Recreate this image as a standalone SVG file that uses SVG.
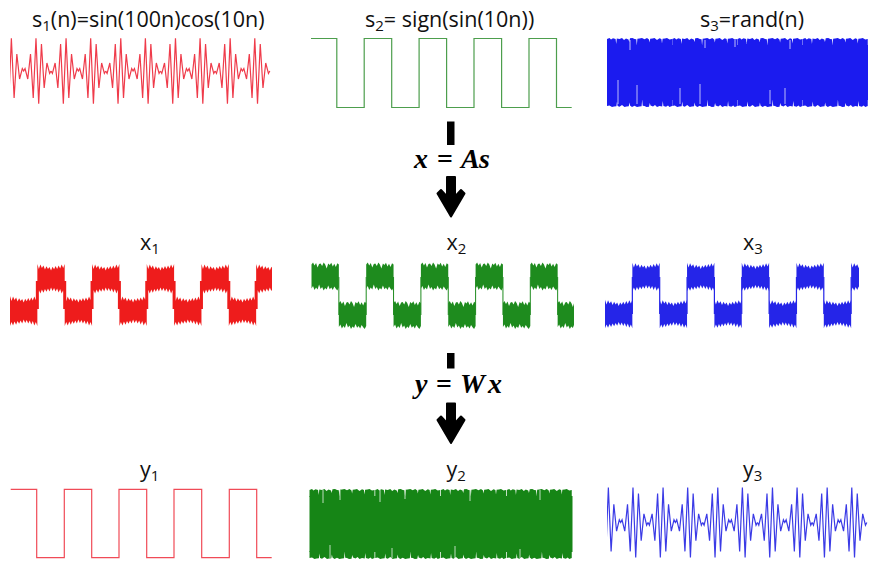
<svg xmlns="http://www.w3.org/2000/svg" xmlns:xlink="http://www.w3.org/1999/xlink" width="878" height="563" viewBox="0 0 878 563">
<style>
.t{font-family:"Open Sans","Noto Sans","Liberation Sans",sans-serif;font-size:21.5px;fill:#111}
.sub{font-size:15px}
.m{font-family:"Liberation Serif","DejaVu Serif",serif;font-size:28px;font-weight:bold;font-style:italic;fill:#000}
.eq{font-style:normal}
.thin{fill:none;stroke-width:1.2;stroke-linejoin:miter}
.arr{fill:#000;stroke:#000;stroke-width:2;stroke-linejoin:round}
</style>
<defs>
<path id="pair" d="M0,0 L1.37,2.5 L4.1,-8 L6.84,17 L9.57,-27 L12.31,32.6 L15.04,-32.6 L17.78,27 L20.51,-17 L23.25,8 L25.98,-2.5 L27.35,0 L28.72,-2.5 L31.45,8 L34.19,-17 L36.92,27 L39.66,-32.6 L42.39,32.6 L45.13,-27 L47.86,17 L50.6,-8 L53.33,2.5 L54.7,0"/>
<path id="jag" d="M0,0 V-7 L2.5,-8 L4,-6.5 L6,-7.8 L8.6,-7 L9.2,-2 L9.8,-7.5 L12.5,-7 L15,-8 L17,-6 L19,-7.6 L21.5,-6.5 L22.2,-4 L23,-7.8 L25.5,-8 L27.5,-7 L29.3,-6.8 L29.8,-0.5 L30.4,-7.2 L32.5,-7.4 L35,-8 L37.5,-6.8 L40,-7.9 L42,-6.5 L42.6,-3.5 L43.2,-7.2 L45.5,-7.6 L47.5,-8 L50,-6 L52.5,-7.7 L54.4,-7 L55,-2.5 L55.6,-7.3 L58,-7.6 L60,-8 L62.5,-6.6 L65,-7 V0 Z"/>
<path id="nb" d="M0,-12 L1.52,-14 L3.04,-11 L4.56,-13.5 L6.08,-9 L7.6,-12.5 L9.12,-13 L10.64,-10.5 L12.16,-14 L13.68,-12 L15.2,-8 L16.72,-13 L18.24,-11.5 L19.76,-13.8 L21.28,-10 L22.8,-12.8 L24.32,-9.5 L25.84,-13.2 L27.35,-12 L27.35,11 L25.84,14 L24.32,12.2 L22.8,10 L21.28,13.5 L19.76,11 L18.24,12.8 L16.72,9 L15.2,13 L13.68,11.5 L12.16,14 L10.64,10.5 L9.12,12.5 L7.6,8 L6.08,13 L4.56,11 L3.04,13.5 L1.52,9.5 L0,12 Z"/>
<path id="nb2" d="M0,-15 L1.52,-10 L3.04,-14.5 L4.56,-11 L6.08,-13.5 L7.6,-9.5 L9.12,-12.8 L10.64,-10 L12.16,-12 L13.68,-8.5 L15.2,-12.2 L16.72,-9.8 L18.24,-13 L19.76,-10 L21.28,-13.6 L22.8,-10.5 L24.32,-14.6 L25.84,-11 L27.35,-15 L27.35,15 L25.84,11 L24.32,14.5 L22.8,10 L21.28,13.6 L19.76,9.5 L18.24,12.5 L16.72,9 L15.2,12 L13.68,8.5 L12.16,12.4 L10.64,9.5 L9.12,12.8 L7.6,10 L6.08,13.8 L4.56,10.5 L3.04,14.6 L1.52,11 L0,15 Z"/>
<clipPath id="c1"><rect x="10" y="30" width="262" height="85"/></clipPath>
<clipPath id="cy3"><rect x="607" y="480" width="262" height="85"/></clipPath>
<clipPath id="cx1"><rect x="10" y="255" width="262" height="80"/></clipPath>
<clipPath id="cx2"><rect x="311" y="255" width="263" height="80"/></clipPath>
<clipPath id="cx3"><rect x="605" y="255" width="254" height="80"/></clipPath>
</defs>
<rect width="878" height="563" fill="#fff"/>

<g id="s1">
<text class="t" x="32" y="27">s<tspan class="sub" dy="4">1</tspan><tspan dy="-4">(n)=sin(100n)cos(10n)</tspan></text>
<g clip-path="url(#c1)"><g transform="translate(-3.675,71)" class="thin" stroke="#ef3b4a">
<use href="#pair"/><use href="#pair" x="54.7"/><use href="#pair" x="109.4"/><use href="#pair" x="164.1"/><use href="#pair" x="218.8"/>
</g></g>
</g>

<g id="s2">
<text class="t" x="365" y="27">s<tspan class="sub" dy="4">2</tspan><tspan dy="-4">= sign(sin(10n))</tspan></text>
<path class="thin" stroke="#4d9e4d" d="M311,38.5 H336.8 V107.5 H364.2 V38.5 H391.7 V107.5 H419.1 V38.5 H446.6 V107.5 H474 V38.5 H501.6 V107.5 H529 V38.5 H556.5 V107.5 H571.7"/>
</g>

<g id="s3">
<text class="t" x="700" y="27">s<tspan class="sub" dy="4">3</tspan><tspan dy="-4">=rand(n)</tspan></text>
<g fill="#1b1bef">
<rect x="607" y="45" width="261" height="55"/>
<use href="#jag" transform="translate(607,46)"/><use href="#jag" transform="translate(672.25,46)"/><use href="#jag" transform="translate(737.5,46)"/><use href="#jag" transform="translate(802.75,46)"/>
<use href="#jag" transform="translate(672,99) scale(-1,-1)"/><use href="#jag" transform="translate(737.25,99) scale(-1,-1)"/><use href="#jag" transform="translate(802.5,99) scale(-1,-1)"/><use href="#jag" transform="translate(867.75,99) scale(-1,-1)"/>
</g>
<path stroke="#fff" stroke-width="0.9" opacity="0.8" d="M618,104 V80 M637,104 V85 M680,104 V88 M700,104 V84 M770,104 V90 M785,104 V88 M630,40 V50 M705,40 V48 M735,40 V47 M790,40 V49"/>
</g>

<g id="x1">
<text class="t" x="140" y="249.5">x<tspan class="sub" font-size="14" dy="4">1</tspan></text>
<g clip-path="url(#cx1)">
<path stroke="#ee1c1c" stroke-width="3" d="M37.35,281 V309 M64.7,281 V309 M92.05,281 V309 M119.4,281 V309 M146.75,281 V309 M174.1,281 V309 M201.45,281 V309 M228.8,281 V309 M256.15,281 V309"/>
<g fill="#ee1c1c">
<use href="#nb2" transform="translate(10,311)"/><use href="#nb2" transform="translate(64.7,311)"/><use href="#nb2" transform="translate(119.4,311)"/><use href="#nb2" transform="translate(174.1,311)"/><use href="#nb2" transform="translate(228.8,311)"/>
<use href="#nb2" transform="translate(37.35,279)"/><use href="#nb2" transform="translate(92.05,279)"/><use href="#nb2" transform="translate(146.75,279)"/><use href="#nb2" transform="translate(201.45,279)"/><use href="#nb2" transform="translate(256.15,279)"/>
</g>
</g>
</g>

<g id="x2">
<text class="t" x="446.5" y="250">x<tspan class="sub" font-size="14" dy="4">2</tspan></text>
<path stroke="#1e8b1e" stroke-width="1" d="M338.85,277 V315 M366.2,277 V315 M393.55,277 V315 M420.9,277 V315 M448.25,277 V315 M475.6,277 V315 M502.95,277 V315 M530.3,277 V315 M557.65,277 V315"/>
<g clip-path="url(#cx2)" fill="#1e8b1e">
<use href="#nb" transform="translate(311.5,276.5)"/><use href="#nb" transform="translate(366.2,276.5)"/><use href="#nb" transform="translate(420.9,276.5)"/><use href="#nb" transform="translate(475.6,276.5)"/><use href="#nb" transform="translate(530.3,276.5)"/>
<use href="#nb" transform="translate(338.85,315)"/><use href="#nb" transform="translate(393.55,315)"/><use href="#nb" transform="translate(448.25,315)"/><use href="#nb" transform="translate(502.95,315)"/><use href="#nb" transform="translate(557.65,315)"/>
</g>
</g>

<g id="x3">
<text class="t" x="743" y="249.5">x<tspan class="sub" font-size="14" dy="4">3</tspan></text>
<path stroke="#2525e8" stroke-width="1.2" d="M632.35,277 V314 M659.7,277 V314 M687.05,277 V314 M714.4,277 V314 M741.75,277 V314 M769.1,277 V314 M796.45,277 V314 M823.8,277 V314 M851.15,277 V314"/>
<g clip-path="url(#cx3)" fill="#2525e8">
<use href="#nb2" transform="translate(605,314) scale(1,0.95)"/><use href="#nb2" transform="translate(659.7,314) scale(1,0.95)"/><use href="#nb2" transform="translate(714.4,314) scale(1,0.95)"/><use href="#nb2" transform="translate(769.1,314) scale(1,0.95)"/><use href="#nb2" transform="translate(823.8,314) scale(1,0.95)"/>
<use href="#nb2" transform="translate(632.35,277) scale(1,0.95)"/><use href="#nb2" transform="translate(687.05,277) scale(1,0.95)"/><use href="#nb2" transform="translate(741.75,277) scale(1,0.95)"/><use href="#nb2" transform="translate(796.45,277) scale(1,0.95)"/><use href="#nb2" transform="translate(851.15,277) scale(1,0.95)"/>
</g>
</g>

<g id="y1">
<text class="t" x="140" y="476.5">y<tspan class="sub" font-size="14" dy="4">1</tspan></text>
<path class="thin" stroke="#f04b57" d="M10.7,489.3 H36.7 V557.7 H64.3 V489.3 H91.7 V557.7 H119 V489.3 H146.7 V557.7 H174 V489.3 H201.7 V557.7 H229.3 V489.3 H256.7 V557.7 H271.7"/>
</g>

<g id="y2">
<text class="t" x="446.5" y="476.5">y<tspan class="sub" font-size="14" dy="4">2</tspan></text>
<g fill="#168516">
<rect x="309.5" y="496" width="263" height="56"/>
<use href="#jag" transform="translate(309.5,497)"/><use href="#jag" transform="translate(375.25,497)"/><use href="#jag" transform="translate(441,497)"/><use href="#jag" transform="translate(506.75,497)"/>
<use href="#jag" transform="translate(374.5,551) scale(-1,-1)"/><use href="#jag" transform="translate(440.25,551) scale(-1,-1)"/><use href="#jag" transform="translate(506,551) scale(-1,-1)"/><use href="#jag" transform="translate(571.75,551) scale(-1,-1)"/>
</g>
<path stroke="#fff" stroke-width="0.9" opacity="0.8" d="M323,490 V503 M340,490 V500 M380,490 V502 M405,490 V499 M470,490 V501 M540,490 V500 M330,558 V545 M392,558 V548 M455,558 V546 M520,558 V549"/>
</g>

<g id="y3">
<text class="t" x="743" y="476.5">y<tspan class="sub" font-size="14" dy="4">3</tspan></text>
<g clip-path="url(#cy3)"><g transform="translate(593.325,522.5) scale(1,1.07)" class="thin" stroke="#3b3be6">
<use href="#pair"/><use href="#pair" x="54.7"/><use href="#pair" x="109.4"/><use href="#pair" x="164.1"/><use href="#pair" x="218.8"/>
</g></g>
</g>

<g id="connectors">
<rect x="447" y="121.5" width="7.5" height="23.5" fill="#000"/>
<text class="m" y="168"><tspan x="414">x</tspan><tspan class="eq" x="437">=</tspan><tspan x="461">A</tspan><tspan x="479">s</tspan></text>
<path class="arr" d="M447,177 H455 V196.5 L461,190 L464.5,193.5 L451,216.5 L437.5,193.5 L441,190 L447,196.5 Z"/>
<rect x="447" y="353" width="7.5" height="15.5" fill="#000"/>
<text class="m" y="393"><tspan x="415">y</tspan><tspan class="eq" x="436">=</tspan><tspan x="460">W</tspan><tspan x="488">x</tspan></text>
<path class="arr" d="M447,403.5 H455 V423 L461,416.5 L464.5,420 L451,443 L437.5,420 L441,416.5 L447,423 Z"/>
</g>
</svg>
